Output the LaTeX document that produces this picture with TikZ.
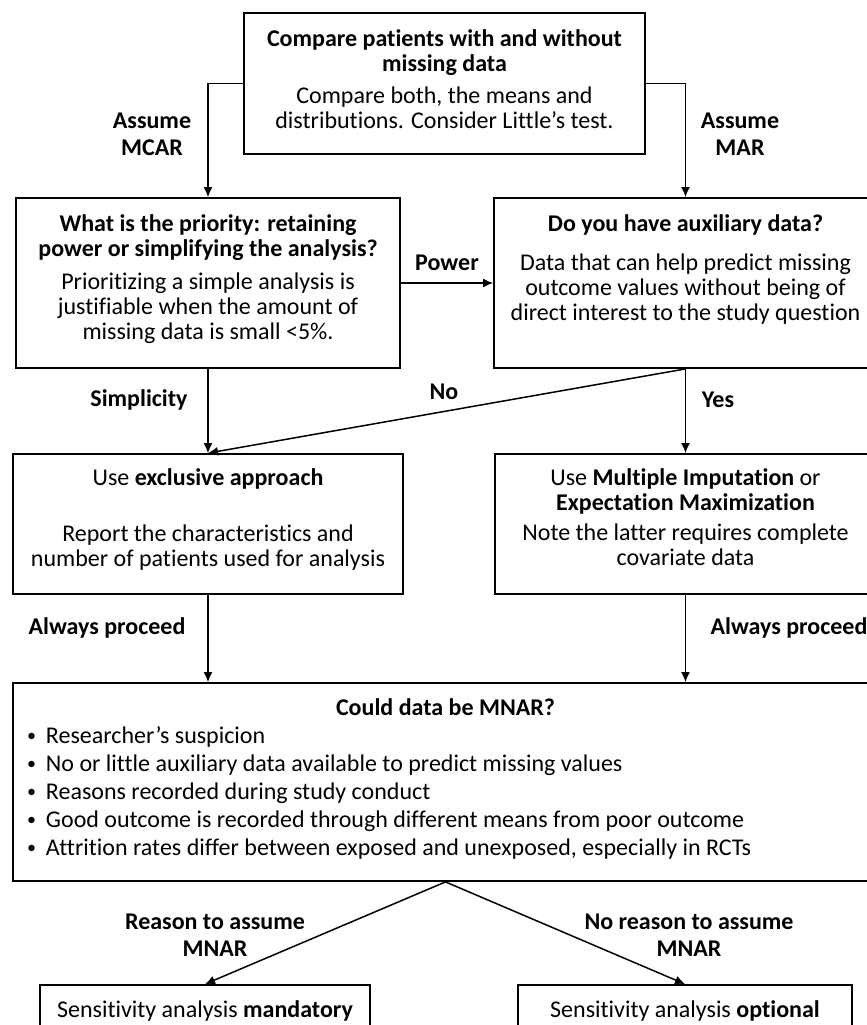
\documentclass[tikz,border=0pt]{standalone}
\usepackage{fontspec}
\setmainfont{Carlito}[Ligatures=TeX, RawFeature={-liga;-clig;-calt;-dlig}]
\usepackage{tikz}
\usetikzlibrary{arrows.meta}
\tikzset{
  box/.style={draw, line width=0.9pt, inner sep=0pt, font=\fontsize{12}{12.5}\selectfont},
  lbl/.style={align=center, font=\fontsize{12}{13.5}\selectfont\bfseries},
  arr/.style={line width=0.75pt, -{Latex[length=5pt,width=4.5pt]}}
}
\newcommand{\mdbox}[6] {\node at (#2) (#1) [box] {\parbox[c][#4][t]{#3}{\centering\rule{0pt}{#5}#6}};}
\newcommand{\mdlabel}[3] {\node at (#1) (#2) [lbl] {#3};}
\newcommand{\mdarrow}[2] {\draw [arr] (#1) -- (#2);}
\newcommand{\mdbul}{\raisebox{0.6pt}{\fontsize{9}{9}\selectfont •}\hspace{5pt}}

\begin{document}
\begin{tikzpicture}[x=0.5pt, y=-0.5pt]
\path [use as bounding box, clip] (0,0) rectangle (867,1025);

\mdbox {cmp} {444.5,83.5} {200.5pt} {70.5pt} {16.5pt} {\textbf{Compare patients with and without}\\ \textbf{missing data}\\[3.5pt] Compare both, the means and\\ distributions. Consider Little's test.};
\mdbox {prio} {208,283} {192pt} {85pt} {16.5pt} {\textbf{What is the priority: retaining}\\ \textbf{power or simplifying the analysis?}\\[4pt] Prioritizing a simple analysis is\\ justifiable when the amount of\\ missing data is small <5\%.};
\mdbox {aux} {685.5,283} {191.5pt} {85pt} {16.5pt} {\textbf{Do you have auxiliary data?}\\[7pt] Data that can help predict missing\\ outcome values without being of\\ direct interest to the study question};
\mdbox {excl} {208,524} {195pt} {70pt} {15.5pt} {Use \textbf{exclusive approach}\\[15.5pt] Report the characteristics and\\ number of patients used for analysis};
\mdbox {mi} {685.5,524} {190.5pt} {70pt} {15.5pt} {Use \textbf{Multiple Imputation} or\\ \textbf{Expectation Maximization}\\[2.5pt] Note the latter requires complete\\ covariate data};
\node at (445.5,782) (mnar) [box] {\parbox[c][99pt][t]{432.5pt}{{\centering\rule{0pt}{16pt}\textbf{Could data be MNAR?}\par}
  \raggedright\leftskip=7pt\baselineskip=14pt
  \mdbul Researcher's suspicion\\
  \mdbul No or little auxiliary data available to predict missing values\\
  \mdbul Reasons recorded during study conduct\\
  \mdbul Good outcome is recorded through different means from poor outcome\\
  \mdbul Attrition rates differ between exposed and unexposed, especially in RCTs\par}};
\mdbox {sensm} {205,1009} {165pt} {24pt} {16pt} {Sensitivity analysis \textbf{mandatory}};
\mdbox {senso} {685,1009} {167pt} {24pt} {16pt} {Sensitivity analysis \textbf{optional}};

\draw [arr] (cmp.west) -| (prio.north);
\draw [arr] (cmp.east) -| (aux.north);
\mdarrow {prio.east} {aux.west};
\mdarrow {prio.south} {excl.north};
\mdarrow {aux.south} {excl.north};
\mdarrow {aux.south} {mi.north};
\mdarrow {excl.south} {excl.south |- mnar.north};
\mdarrow {mi.south} {mi.south |- mnar.north};
\mdarrow {mnar.south} {sensm.north};
\mdarrow {mnar.south} {senso.north};

\mdlabel {152,134} {mcar} {Assume\\ MCAR};
\mdlabel {740,134} {mar} {Assume\\ MAR};
\mdlabel {447,263} {power} {Power};
\mdlabel {139,400} {simple} {Simplicity};
\mdlabel {444,392} {no} {No};
\mdlabel {718,400} {yes} {Yes};
\mdlabel {107,628} {procl} {Always proceed};
\mdlabel {789,628} {procr} {Always proceed};
\mdlabel {215,935} {reason} {Reason to assume\\ MNAR};
\mdlabel {689,935} {noreason} {No reason to assume\\ MNAR};

%\node at (445,1000) {};
\end{tikzpicture}
\end{document}
